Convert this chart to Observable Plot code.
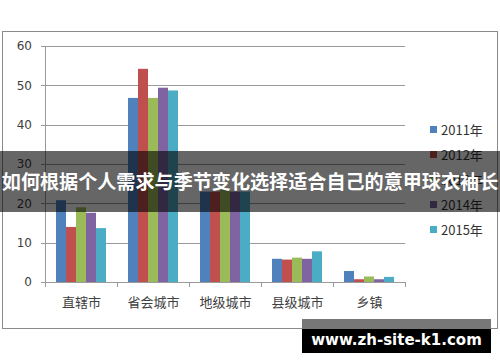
<!DOCTYPE html>
<html>
<head>
<meta charset="utf-8">
<script src="https://cdn.jsdelivr.net/npm/d3@7"></script>
<script src="https://cdn.jsdelivr.net/npm/@observablehq/plot@0.6"></script>
<style>
  html, body { margin: 0; padding: 0; background: #fff; }
  #wrap { position: relative; width: 500px; height: 362px; overflow: hidden; font-family: "Noto Sans CJK SC", "Noto Sans", sans-serif; }
  #chart { position: absolute; left: 0; top: 0; }
  #border { position: absolute; left: 2px; top: 31px; width: 494px; height: 296px; border: 1px solid #8a8a8a; }
  #legend { position: absolute; left: 430px; top: 117px; }
  .li { display: flex; align-items: center; height: 25px; font-size: 13px; color: #333; }
  .sw { width: 7px; height: 7px; margin-right: 4px; }
  #banner { position: absolute; left: 0; top: 151px; width: 500px; height: 61px; background: rgba(0,0,0,0.6);
            color: #fff; font-weight: bold; font-size: 19.1px; line-height: 61px; text-align: center; white-space: nowrap; }
  #wm { position: absolute; left: 302px; top: 319px; width: 189px; height: 34px; background: #000; }
  #wmtop { position: absolute; left: 0; top: 0; width: 189px; height: 10px; background: #777; }
  #wmtext { position: absolute; left: 0; top: 9px; width: 189px; text-align: center; color: #fff; font-weight: bold;
            font-family: "DejaVu Sans", sans-serif; font-size: 15px; line-height: 24px; }
</style>
</head>
<body>
<div id="wrap">
  <div id="border"></div>
  <div id="chart"></div>
  <div id="legend"></div>
  <div id="banner"></div>
  <div id="wm"><div id="wmtop"></div><div id="wmtext"></div></div>
</div>
<script>
const title = "如何根据个人需求与季节变化选择适合自己的意甲球衣袖长";
const watermark = "www.zh-site-k1.com";
const categories = ["直辖市", "省会城市", "地级城市", "县级城市", "乡镇"];
const years = ["2011年", "2012年", "2013年", "2014年", "2015年"];
const v2011 = [20.8, 46.8, 23.0, 5.9, 2.8];
const v2012 = [14.0, 54.2, 23.0, 5.7, 0.7];
const v2013 = [19.0, 46.8, 23.5, 6.2, 1.4];
const v2014 = [17.6, 49.4, 23.0, 5.9, 0.7];
const v2015 = [13.7, 48.7, 23.0, 7.8, 1.3];
const yTicks = [0, 10, 20, 30, 40, 50, 60];
const colors = ["#4F81BD", "#C0504D", "#9BBB59", "#8064A2", "#4BACC6"];

const series = [v2011, v2012, v2013, v2014, v2015];
const data = [];
categories.forEach((c, i) => years.forEach((y, j) => data.push({cat: c, year: y, value: series[j][i]})));

const chart = Plot.plot({
  width: 500, height: 362,
  marginLeft: 43, marginRight: 93, marginTop: 46, marginBottom: 80,
  style: {background: "transparent", color: "#404040", fontFamily: "'Noto Sans CJK SC', sans-serif"},
  fx: {domain: categories, paddingInner: 0.25, paddingOuter: 0.125, label: null},
  x: {domain: years, padding: 0, axis: null},
  y: {domain: [0, 60], axis: null},
  color: {domain: years, range: colors},
  marks: [
    Plot.barY(data, {fx: "cat", x: "year", y: "value", fill: "year"}),
    Plot.axisFx({anchor: "bottom", tickSize: 0, tickPadding: 15, fontSize: 13, label: null})
  ]
});
document.getElementById("chart").appendChild(chart);

// grid, y axis, axis line and category boundary ticks drawn from the chart's scales
const ys = chart.scale("y");
const fxs = chart.scale("fx");
const svg = d3.select(chart);
const step = fxs.apply(categories[1]) - fxs.apply(categories[0]);
const left = fxs.apply(categories[0]) - (step - fxs.bandwidth) / 2;
const right = left + step * categories.length;
const x0 = Math.round(left);
const grid = svg.insert("g", ":first-child");
yTicks.forEach(t => {
  grid.append("line").attr("x1", x0).attr("x2", right).attr("y1", Math.round(ys.apply(t)) + 0.5).attr("y2", Math.round(ys.apply(t)) + 0.5).attr("stroke", "#9a9a9a");
});
const g = svg.append("g");
g.append("line").attr("x1", x0 + 0.5).attr("x2", x0 + 0.5).attr("y1", ys.apply(60)).attr("y2", ys.apply(0)).attr("stroke", "#9a9a9a");
yTicks.forEach(t => {
  g.append("line").attr("x1", x0 - 4).attr("x2", x0).attr("y1", Math.round(ys.apply(t)) + 0.5).attr("y2", Math.round(ys.apply(t)) + 0.5).attr("stroke", "#9a9a9a");
  g.append("text").attr("x", x0 - 13).attr("y", ys.apply(t)).attr("dy", "0.35em").attr("text-anchor", "end")
    .attr("font-size", 12).attr("fill", "#404040").attr("font-family", "'DejaVu Sans', sans-serif").text(t);
});
for (let i = 0; i <= categories.length; i++) {
  const xx = Math.round(left + i * step);
  g.append("line").attr("x1", xx + 0.5).attr("x2", xx + 0.5).attr("y1", ys.apply(0)).attr("y2", ys.apply(0) + 5).attr("stroke", "#9a9a9a");
}

const legend = document.getElementById("legend");
years.forEach((y, j) => {
  const row = document.createElement("div");
  row.className = "li";
  const sw = document.createElement("span");
  sw.className = "sw";
  sw.style.background = colors[j];
  row.appendChild(sw);
  row.appendChild(document.createTextNode(y));
  legend.appendChild(row);
});
document.getElementById("banner").textContent = title;
document.getElementById("wmtext").textContent = watermark;
</script>
</body>
</html>
